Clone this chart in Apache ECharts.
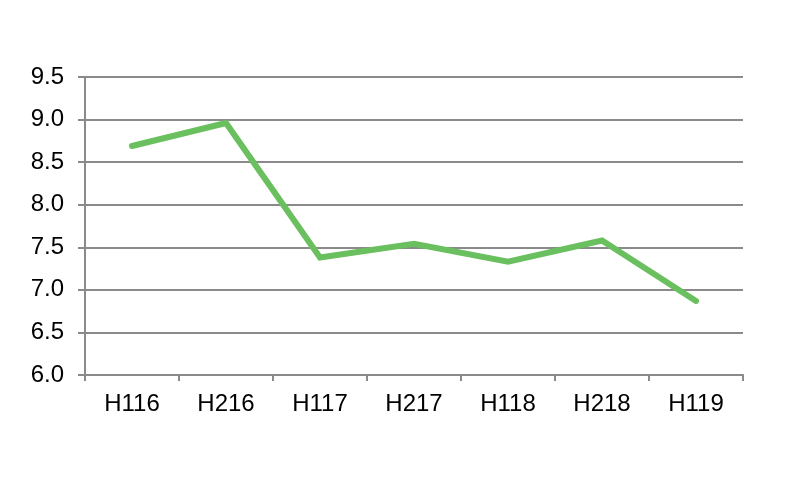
<!DOCTYPE html>
<html>
<head>
<meta charset="utf-8">
<script src="https://cdn.jsdelivr.net/npm/echarts@6/dist/echarts.min.js"></script>
<style>
  html, body { margin: 0; padding: 0; background: #fff; }
  #chart { width: 800px; height: 484px; }
</style>
</head>
<body>
<div id="chart"></div>
<script>
const categories = ["H116", "H216", "H117", "H217", "H118", "H218", "H119"];
const values = [8.69, 8.96, 7.38, 7.54, 7.33, 7.58, 6.87];
const yTicks = { min: 6, max: 9.5, step: 0.5 };

const chart = echarts.init(document.getElementById("chart"));
const axisGray = "#8a8a8a";

const option = {
  animation: false,
  grid: {
    left: 85,
    right: 57,
    top: 77,
    bottom: 109,
  },
  xAxis: {
    type: "category",
    data: categories,
    boundaryGap: true,
    axisLine: { lineStyle: { color: axisGray, width: 2 } },
    axisTick: { show: true, length: 6, lineStyle: { color: axisGray, width: 2 } },
    axisLabel: {
      color: "#000",
      fontSize: 24,
      fontFamily: "'Liberation Sans Narrow', 'Arial Narrow', 'Liberation Sans', Arial, sans-serif",
      margin: 17,
    },
  },
  yAxis: {
    type: "value",
    min: yTicks.min,
    max: yTicks.max,
    interval: yTicks.step,
    axisLine: { show: true, lineStyle: { color: axisGray, width: 2 } },
    axisTick: { show: true, length: 7, lineStyle: { color: axisGray, width: 2 } },
    splitLine: { show: true, lineStyle: { color: axisGray, width: 2 } },
    axisLabel: {
      color: "#000",
      fontSize: 24,
      fontFamily: "'Liberation Sans', Arial, sans-serif",
      margin: 21,
      formatter: (v) => v.toFixed(1),
    },
  },
  series: [
    {
      type: "line",
      data: values,
      showSymbol: false,
      symbol: "none",
      lineStyle: { color: "#6abf5e", width: 6, cap: "round", join: "miter" },
    },
  ],
};

chart.setOption(option);
</script>
</body>
</html>
